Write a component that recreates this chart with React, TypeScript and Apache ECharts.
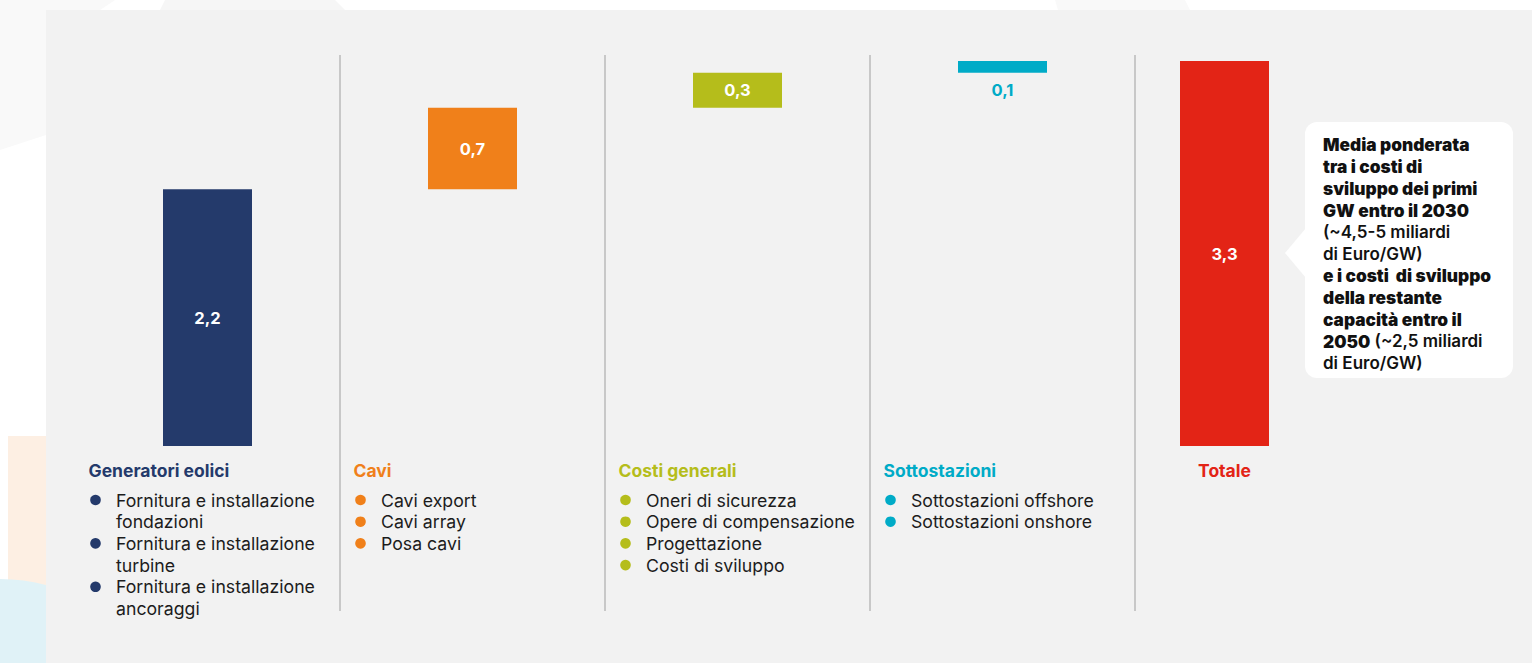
import React, { useEffect, useRef } from "react";
import * as echarts from "echarts";

const categories = ["Generatori eolici", "Cavi", "Costi generali", "Sottostazioni"];
const values = [2.2, 0.7, 0.3, 0.1];
const totalLabel = "Totale";
const totalValue = 3.3;
const colors = ["#243a6b", "#f0801a", "#b5bd1b", "#00abc7"];
const totalColor = "#e32416";

const groupItems: string[][][] = [
  [
    ["Fornitura e installazione", "fondazioni"],
    ["Fornitura e installazione", "turbine"],
    ["Fornitura e installazione", "ancoraggi"],
  ],
  [["Cavi export"], ["Cavi array"], ["Posa cavi"]],
  [["Oneri di sicurezza"], ["Opere di compensazione"], ["Progettazione"], ["Costi di sviluppo"]],
  [["Sottostazioni offshore"], ["Sottostazioni onshore"]],
];

// [style, text] segments per line: b = heavy, m = semibold
const calloutLines: [string, string][][] = [
  [["b", "Media ponderata"]],
  [["b", "tra i costi di"]],
  [["b", "sviluppo dei primi"]],
  [["b", "GW entro il 2030"]],
  [["m", "(~4,5-5 miliardi"]],
  [["m", "di Euro/GW)"]],
  [["b", "e i costi  di sviluppo"]],
  [["b", "della restante"]],
  [["b", "capacità entro il"]],
  [["b", "2050"], ["m", " (~2,5 miliardi"]],
  [["m", "di Euro/GW)"]],
];

const fmt = (v: number) => v.toFixed(1).replace(".", ",");
const FONT = "Inter, 'Noto Sans', sans-serif";

export default function App() {
  const ref = useRef<HTMLDivElement>(null);

  useEffect(() => {
    if (!ref.current) return;
    const chart = echarts.init(ref.current, null, { renderer: "svg" });

    const bases: number[] = [];
    let acc = 0;
    values.forEach((v) => {
      bases.push(acc);
      acc += v;
    });

    const pxPerUnit = 385 / totalValue;
    const yMin = -165 / pxPerUnit;
    const yMax = totalValue + 6 / pxPerUnit;

    const option: any = {
      animation: false,
      backgroundColor: "#ffffff",
      grid: [
        { left: 75, top: 55, width: 1060, height: 556 },
        { left: 1136, top: 55, width: 177, height: 556 },
      ],
      xAxis: [
        {
          type: "category",
          gridIndex: 0,
          data: categories,
          axisLine: { show: false },
          axisTick: { show: false },
          axisLabel: { show: false },
          splitLine: {
            show: true,
            interval: 0,
            showMinLine: false,
            showMaxLine: true,
            lineStyle: { color: "#c8c8c8", width: 2 },
          },
        },
        {
          type: "category",
          gridIndex: 1,
          data: [totalLabel],
          axisLine: { show: false },
          axisTick: { show: false },
          axisLabel: { show: false },
          splitLine: { show: false },
        },
      ],
      yAxis: [
        { type: "value", gridIndex: 0, min: yMin, max: yMax, show: false },
        { type: "value", gridIndex: 1, min: yMin, max: yMax, show: false },
      ],
      series: [
        {
          type: "bar",
          name: "base",
          stack: "w",
          xAxisIndex: 0,
          yAxisIndex: 0,
          barWidth: 89,
          itemStyle: { color: "transparent" },
          emphasis: { disabled: true },
          silent: true,
          data: bases,
        },
        {
          type: "bar",
          name: "valore",
          stack: "w",
          xAxisIndex: 0,
          yAxisIndex: 0,
          barWidth: 89,
          data: values.map((v, i) => ({
            value: v,
            itemStyle: { color: colors[i] },
            label:
              i === values.length - 1
                ? { position: "bottom", distance: 9, color: colors[i] }
                : { position: "inside", color: "#ffffff" },
          })),
          label: {
            show: true,
            fontFamily: FONT,
            fontWeight: "bold",
            fontSize: 16.5,
            formatter: (p: any) => fmt(p.value),
          },
        },
        {
          type: "bar",
          name: "totale",
          xAxisIndex: 1,
          yAxisIndex: 1,
          barWidth: 89,
          itemStyle: { color: totalColor },
          data: [totalValue],
          label: {
            show: true,
            position: "inside",
            color: "#ffffff",
            fontFamily: FONT,
            fontWeight: "bold",
            fontSize: 16.5,
            formatter: (p: any) => fmt(p.value),
          },
        },
      ],
    };

    chart.setOption(option);

    const graphics: any[] = [
      // decorative background
      { type: "polygon", z: -20, silent: true, shape: { points: [[0, 0], [115, 0], [100, 10], [46, 10], [46, 135], [0, 150]] }, style: { fill: "#f9f9f9" } },
      { type: "polygon", z: -20, silent: true, shape: { points: [[165, 0], [335, 0], [345, 10], [160, 10]] }, style: { fill: "#f6f6f6" } },
      { type: "polygon", z: -20, silent: true, shape: { points: [[1055, 0], [1185, 0], [1190, 10], [1058, 10]] }, style: { fill: "#f9f9f9" } },
      { type: "rect", z: -19, silent: true, shape: { x: 8, y: 436, width: 40, height: 227 }, style: { fill: "#fdefe3" } },
      { type: "circle", z: -18, silent: true, shape: { cx: 0, cy: 760, r: 181 }, style: { fill: "#e0f2f7" } },
      { type: "rect", z: -10, silent: true, shape: { x: 46, y: 10, width: 1486, height: 653 }, style: { fill: "#f2f2f2" } },
    ];

    const lineH = 21.7;
    categories.forEach((name, i) => {
      const cx = chart.convertToPixel({ xAxisIndex: 0 }, name) as number;
      const left = cx - 119;
      graphics.push({
        type: "text",
        x: left,
        y: 470,
        style: {
          text: name,
          fill: colors[i],
          font: `bold 17.5px ${FONT}`,
          verticalAlign: "middle",
          align: "left",
        },
      });
      let y = 500;
      groupItems[i].forEach((lines) => {
        graphics.push({
          type: "circle",
          shape: { cx: left + 7, cy: y, r: 5.3 },
          style: { fill: colors[i] },
        });
        lines.forEach((ln) => {
          graphics.push({
            type: "text",
            x: left + 27.5,
            y,
            style: {
              text: ln,
              fill: "#1c1c1c",
              font: `17.7px ${FONT}`,
              verticalAlign: "middle",
              align: "left",
            },
          });
          y += lineH;
        });
      });
    });

    const tx = chart.convertToPixel({ xAxisIndex: 1 }, totalLabel) as number;
    graphics.push({
      type: "text",
      x: tx,
      y: 470,
      style: {
        text: totalLabel,
        fill: totalColor,
        font: `bold 17.5px ${FONT}`,
        verticalAlign: "middle",
        align: "center",
      },
    });

    // callout
    graphics.push({
      type: "rect",
      shape: { x: 1305, y: 122, width: 208, height: 256, r: 12 },
      style: { fill: "#ffffff" },
    });
    graphics.push({
      type: "polygon",
      shape: { points: [[1306, 228], [1285, 253], [1306, 278]] },
      style: { fill: "#ffffff" },
    });
    graphics.push({
      type: "text",
      x: 1323,
      y: 134,
      style: {
        text: calloutLines.map((segs) => segs.map(([s, t]) => `{${s}|${t}}`).join("")).join("\n"),
        rich: {
          b: { fontFamily: FONT, fontWeight: 900, fontSize: 17.3, lineHeight: 21.8, fill: "#111111" },
          m: { fontFamily: FONT, fontWeight: 600, fontSize: 17, lineHeight: 21.8, fill: "#111111" },
        },
        verticalAlign: "top",
        align: "left",
      },
    });

    chart.setOption({ graphic: graphics });

    return () => chart.dispose();
  }, []);

  return (
    <div
      ref={ref}
      style={{ position: "fixed", left: 0, top: 0, width: 1532, height: 663 }}
    />
  );
}
